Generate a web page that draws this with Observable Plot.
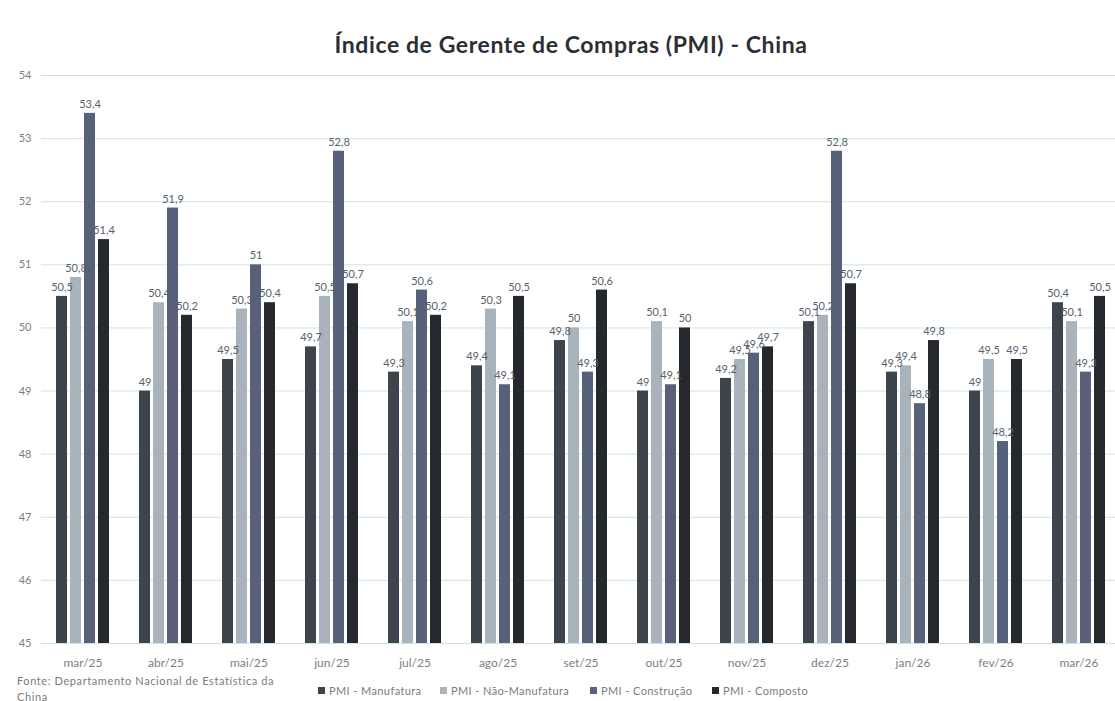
<!DOCTYPE html>
<html><head><meta charset="utf-8">
<script src="https://cdn.jsdelivr.net/npm/d3@7"></script>
<script src="https://cdn.jsdelivr.net/npm/@observablehq/plot@0.6"></script>
<style>
body{margin:0;background:#fff;font-family:Lato,"Noto Sans",sans-serif;width:1115px;height:701px;overflow:hidden;}
#title{height:60px;line-height:88px;text-align:center;font-weight:bold;font-size:23px;letter-spacing:0.6px;color:#2b2f33;padding-left:27px;}
#foot{position:relative;height:29px;}
#src{position:absolute;left:17px;top:1px;font-size:11px;letter-spacing:0.6px;color:#767c83;line-height:16px;width:280px;}
#leg span{position:absolute;top:12px;font-size:11px;letter-spacing:0.4px;color:#767c83;display:inline-flex;align-items:center;white-space:nowrap;}
#leg i{display:inline-block;width:7px;height:7px;margin-right:4px;}
</style></head><body>
<div id="title">Índice de Gerente de Compras (PMI) - China</div>
<div id="chart"></div>
<div id="foot"><div id="src">Fonte: Departamento Nacional de Estatística da China</div><div id="leg"></div></div>
<script>
const months = ["mar/25","abr/25","mai/25","jun/25","jul/25","ago/25","set/25","out/25","nov/25","dez/25","jan/26","fev/26","mar/26"];
const series = ["PMI - Manufatura","PMI - Não-Manufatura","PMI - Construção","PMI - Composto"];
const manufatura    = [50.5,49.0,49.5,49.7,49.3,49.4,49.8,49.0,49.2,50.1,49.3,49.0,50.4];
const naoManufatura = [50.8,50.4,50.3,50.5,50.1,50.3,50.0,50.1,49.5,50.2,49.4,49.5,50.1];
const construcao    = [53.4,51.9,51.0,52.8,50.6,49.1,49.3,49.1,49.6,52.8,48.8,48.2,49.3];
const composto      = [51.4,50.2,50.4,50.7,50.2,50.5,50.6,50.0,49.7,50.7,49.8,49.5,50.5];
const yTicks = [45,46,47,48,49,50,51,52,53,54];
const colors = ["#3e444c","#a9b3bb","#58617a","#25282c"];
const legendLeft = [318,440,590,712];

const cols = [manufatura, naoManufatura, construcao, composto];
const data = [];
months.forEach((m,i)=>series.forEach((s,j)=>data.push({month:m, series:s, value:cols[j][i]})));
const fmt = v => String(v).replace(".", ",");

const chart = Plot.plot({
  width:1115, height:612,
  marginLeft:40, marginRight:-6, marginTop:15, marginBottom:29,
  style:{fontFamily:"Lato, 'Noto Sans', sans-serif", fontSize:"11px", color:"#7a8087", background:"#fff", overflow:"hidden"},
  fx:{domain:months, padding:0, axis:"bottom", label:null, tickSize:0, tickPadding:15},
  x:{domain:series, paddingInner:0.25, paddingOuter:0.95, axis:null},
  y:{domain:[45,54], ticks:yTicks, label:null, tickSize:0, tickPadding:10, tickFormat:d=>String(d)},
  color:{domain:series, range:colors},
  marks:[
    Plot.gridY(yTicks,{stroke:"#cfe3e3", strokeOpacity:1, strokeWidth:1}),
    Plot.barY(data,{fx:"month", x:"series", y1:45, y2:"value", fill:"series"}),
    Plot.text(data,{fx:"month", x:"series", y:"value", text:d=>fmt(d.value), dy:-9, fill:"#56626f", fontSize:11})
  ]
});
chart.querySelectorAll('g[aria-label="fx-axis tick label"] text').forEach(t=>t.setAttribute("font-size","12"));
document.getElementById("chart").appendChild(chart);

const leg = document.getElementById("leg");
series.forEach((s,j)=>{
  const sp=document.createElement("span");
  sp.style.left=legendLeft[j]+"px";
  sp.innerHTML=`<i style="background:${colors[j]}"></i>${s}`;
  leg.appendChild(sp);
});
</script>
</body></html>
